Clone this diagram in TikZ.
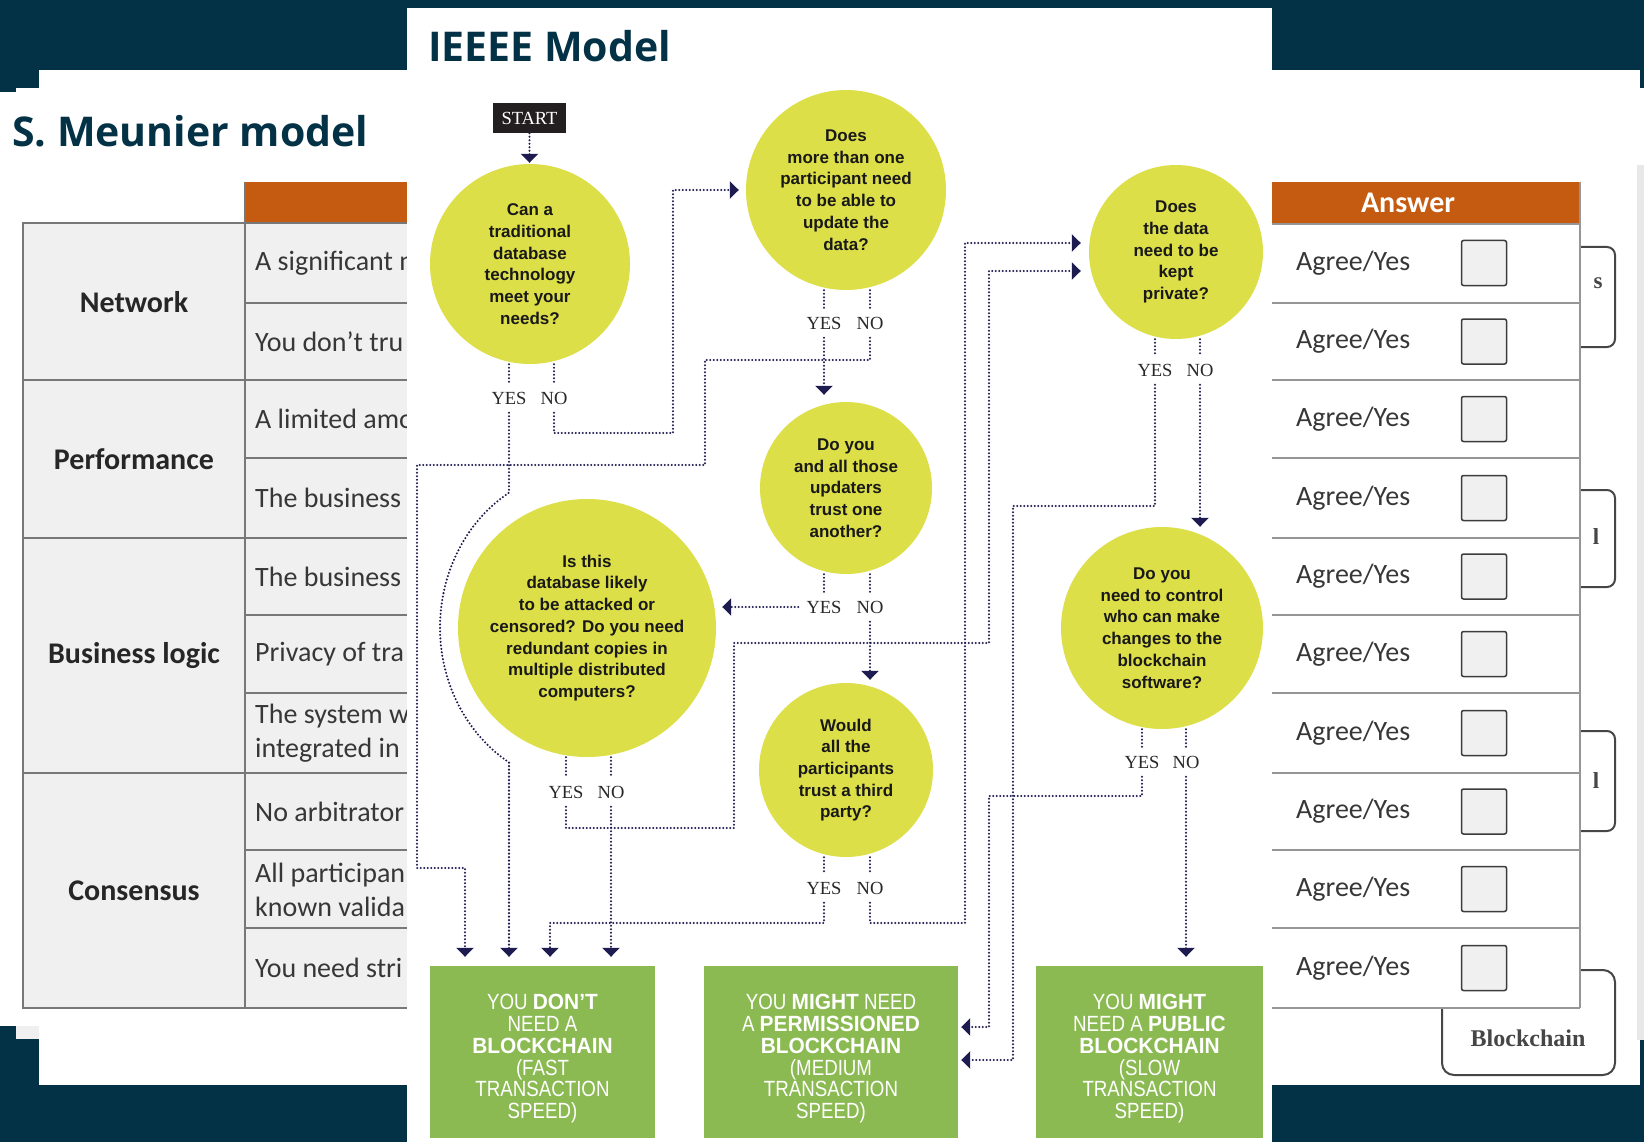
\documentclass[tikz,border=0pt]{standalone}
\usepackage{fontspec}
\usepackage{xcolor}
\usetikzlibrary{arrows.meta,positioning}
\newfontfamily\titlefont{Open Sans}
\newfontfamily\tabfont{Carlito}
\newfontfamily\qfont{Liberation Sans}
\newfontfamily\labelfont{Liberation Serif}
\newfontfamily\boxfont{Liberation Sans}[FakeStretch=0.85]
\newfontfamily\boxboldfont{Liberation Sans}[FakeStretch=0.95]
\newcommand{\hl}[1]{{\boxboldfont\bfseries #1}}
\newcommand{\topgap}{\rule{0pt}{29pt}}
\definecolor{slidenavy}{RGB}{3,49,70}
\definecolor{tableorange}{RGB}{197,90,17}
\definecolor{cellgrey}{RGB}{240,240,240}
\definecolor{linegrey}{RGB}{120,120,120}
\definecolor{lightline}{RGB}{150,150,150}
\definecolor{stripgrey}{RGB}{232,232,232}
\definecolor{tabdark}{RGB}{55,55,55}
\definecolor{boxedge}{RGB}{60,60,60}
\definecolor{bracegrey}{RGB}{70,70,70}
\definecolor{qyellow}{RGB}{221,223,72}
\definecolor{boxgreen}{RGB}{139,186,82}
\definecolor{linknavy}{RGB}{30,27,80}
\definecolor{startblack}{RGB}{35,31,32}
\definecolor{labelgrey}{RGB}{40,40,40}
\pgfdeclarelayer{backlayer}
\pgfdeclarelayer{edgelayer}
\pgfdeclarelayer{nodelayer}
\pgfsetlayers{backlayer,nodelayer,main,edgelayer}
\tikzset{
  slidetitle/.style={font=\titlefont\bfseries\fontsize{41}{48}\selectfont, text=slidenavy, inner sep=0pt},
  tabtext/.style={font=\tabfont\fontsize{28}{34}\selectfont, text=tabdark, inner sep=0pt, align=left},
  tabhead/.style={font=\tabfont\bfseries\fontsize{30}{36}\selectfont, text=black!85, inner sep=0pt},
  tabline/.style={draw=linegrey, line width=2pt},
  lightrule/.style={draw=lightline, line width=2pt},
  checkbox/.style={draw=boxedge, fill=cellgrey, line width=1.5pt, rounded corners=2pt, minimum size=45pt, inner sep=0pt},
  brace/.style={draw=bracegrey, line width=2pt},
  fragment/.style={font=\labelfont\bfseries\fontsize{23}{26}\selectfont, text=bracegrey, inner sep=0pt},
  question/.style={circle, fill=qyellow, inner sep=0pt, align=center, text=black!90, font=\qfont\bfseries\fontsize{17}{21.7}\selectfont},
  answer/.style={rectangle, fill=boxgreen, inner sep=0pt, minimum height=172pt, align=center, text=white, font=\boxfont\fontsize{22}{21.7}\selectfont},
  yesno/.style={font=\labelfont\fontsize{18.5}{20}\selectfont, text=labelgrey, text height=12.5pt, text depth=0pt, inner xsep=8pt, inner ysep=0pt, minimum height=29pt},
  startbox/.style={fill=startblack, text=white, font=\labelfont\fontsize{18.5}{20}\selectfont, minimum width=73pt, minimum height=30pt, inner sep=0pt},
  link/.style={draw=linknavy, line width=2.3pt, line cap=round, dash pattern=on 0pt off 3.5pt},
  flow/.style={link, -{Triangle[width=17pt,length=9pt]}}
}
\begin{document}
\begin{tikzpicture}[x=1pt,y=-1pt]
	\useasboundingbox (0,0) rectangle (1644,1142);
	\begin{pgfonlayer}{backlayer}
		\fill[slidenavy] (0,0) rectangle (1644,1142);
		\fill[white] (0,70) rectangle (1644,1085);
		\fill[slidenavy] (0,70) rectangle (39,88);
		\fill[slidenavy] (0,88) rectangle (16,92);
		\fill[slidenavy] (0,1026) rectangle (16,1085);
		\fill[slidenavy] (16,1039) rectangle (39,1085);
		\fill[cellgrey] (16,1026) rectangle (39,1039);
		\fill[slidenavy] (1640,70) rectangle (1644,88);
		\fill[slidenavy] (1640,1040) rectangle (1644,1085);
		\fill[stripgrey] (1637,165) rectangle (1644,1040);
		\node[slidetitle, anchor=base west] (meunier) at (12,147) {S. Meunier model};
		\fill[tableorange] (245,182) rectangle (430,223);
		\fill[cellgrey] (23,223) rectangle (430,1008);
		\draw[tabline] (430,223) -- (23,223) -- (23,1008) -- (430,1008);
		\draw[tabline] (245,182) -- (245,1008);
		\foreach \y in {380,538,773}
			\draw[tabline] (23,\y) -- (430,\y);
		\foreach \y in {303,458,615,693,850,928}
			\draw[tabline] (245,\y) -- (430,\y);
		\node[tabhead] (net) at (134,302) {Network};
		\node[tabhead] (perf) at (134,459) {Performance};
		\node[tabhead] (logic) at (134,656) {Business logic};
		\node[tabhead] (cons) at (134,891) {Consensus};
		\node[tabtext, anchor=west] (t1) at (255,263) {A significant n};
		\node[tabtext, anchor=west] (t2) at (255,341.5) {You don’t tru};
		\node[tabtext, anchor=west] (t3) at (255,419) {A limited amo};
		\node[tabtext, anchor=west] (t4) at (255,498) {The business};
		\node[tabtext, anchor=west] (t5) at (255,576.5) {The business};
		\node[tabtext, anchor=west] (t6) at (255,654) {Privacy of tra};
		\node[tabtext, anchor=west] (t7) at (255,733.5) {The system w\\integrated in};
		\node[tabtext, anchor=west] (t8) at (255,811.5) {No arbitrator};
		\node[tabtext, anchor=west] (t9) at (255,889.5) {All participan\\known valida};
		\node[tabtext, anchor=west] (t10) at (255,968) {You need stri};
		\draw[brace, rounded corners=8pt] (1575,247) -- (1615,247) -- (1615,347) -- (1575,347);
		\draw[brace, rounded corners=8pt] (1575,490) -- (1615,490) -- (1615,587) -- (1575,587);
		\draw[brace, rounded corners=8pt] (1575,731) -- (1615,731) -- (1615,831) -- (1575,831);
		\draw[brace, rounded corners=12pt] (1442,970) rectangle (1615,1075);
		\node[fragment] (frag1) at (1598,283) {s};
		\node[fragment] (frag2) at (1596,537) {l};
		\node[fragment] (frag3) at (1596,781) {l};
		\node[font=\labelfont\bfseries\fontsize{24}{28}\selectfont, text=bracegrey] (chainlabel) at (1528,1038) {Blockchain};
		\fill[tableorange] (1250,182) rectangle (1580,224);
		\fill[white] (1250,224) rectangle (1580,1008);
		\foreach \y in {224,303,380,458,538,615,693,773,850,928,1008}
			\draw[lightrule] (1250,\y) -- (1580,\y);
		\draw[lightrule] (1580,182) -- (1580,1008);
		\node[font=\tabfont\bfseries\fontsize{30}{36}\selectfont, text=white] (anshead) at (1408,203) {Answer};
		\foreach \c [count=\i] in {263,341.5,419,498,576.5,654,733,811.5,889,968} {
			\node[tabtext, anchor=west] (agree\i) at (1296,\c) {Agree/Yes};
			\node[checkbox] (tick\i) at (1484,\c) {};
		}
		\fill[white] (407,8) rectangle (1272,1142);
		\node[slidetitle, anchor=base west] (ieee) at (428,62) {IEEEE Model};
	\end{pgfonlayer}
	\begin{pgfonlayer}{nodelayer}
		\node[startbox] (start) at (529.5,118) {START};
		\node[question, minimum size=200pt] (q1) at (530,264) {Can a\\traditional\\database\\technology\\meet your\\needs?};
		\node[question, minimum size=200pt] (q2) at (846,190) {Does\\more than one\\participant need\\to be able to\\update the\\data?};
		\node[question, minimum size=172pt] (q3) at (846,488) {Do you\\and all those\\updaters\\trust one\\another?};
		\node[question, minimum size=258pt] (q4) at (587,628) {Is this\\database likely\\to be attacked or\\censored? Do you need\\redundant copies in\\multiple distributed\\computers?};
		\node[question, minimum size=174pt] (q5) at (846,770) {Would\\all the\\participants\\trust a third\\party?};
		\node[question, minimum size=174pt] (q6) at (1176,252) {Does\\the data\\need to be\\kept\\private?};
		\node[question, minimum size=202pt] (q7) at (1162,628) {Do you\\need to control\\who can make\\changes to the\\blockchain\\software?};
		\node[yesno] (y1) at (509,398) {YES};
		\node[yesno] (n1) at (554,398) {NO};
		\node[yesno] (y2) at (824,323) {YES};
		\node[yesno] (n2) at (870,323) {NO};
		\node[yesno] (y3) at (824,607) {YES};
		\node[yesno] (n3) at (870,607) {NO};
		\node[yesno] (y4) at (566,792) {YES};
		\node[yesno] (n4) at (611,792) {NO};
		\node[yesno] (y5) at (824,888) {YES};
		\node[yesno] (n5) at (870,888) {NO};
		\node[yesno] (y6) at (1155,370) {YES};
		\node[yesno] (n6) at (1200,370) {NO};
		\node[yesno] (y7) at (1142,762) {YES};
		\node[yesno] (n7) at (1186,762) {NO};
		\node[answer, minimum width=225pt] (box1) at (542.5,1052) {\topgap YOU \hl{DON’T}\\NEED A\\\hl{BLOCKCHAIN}\\(FAST\\TRANSACTION\\SPEED)};
		\node[answer, minimum width=254pt] (box2) at (831,1052) {\topgap YOU \hl{MIGHT} NEED\\A \hl{PERMISSIONED}\\\hl{BLOCKCHAIN}\\(MEDIUM\\TRANSACTION\\SPEED)};
		\node[answer, minimum width=227pt] (box3) at (1149.5,1052) {\topgap YOU \hl{MIGHT}\\NEED A \hl{PUBLIC}\\\hl{BLOCKCHAIN}\\(SLOW\\TRANSACTION\\SPEED)};
		\coordinate (w1) at (673,433);
		\coordinate (w2) at (705,360);
		\coordinate (w3) at (417,465);
		\coordinate (w4) at (465,868);
		\coordinate (w5) at (734,828);
		\coordinate (w6) at (989,643);
		\coordinate (w7) at (550,923);
		\coordinate (w8) at (965,923);
		\coordinate (w9) at (1013,506);
		\coordinate (w10) at (989,796);
	\end{pgfonlayer}
	\begin{pgfonlayer}{edgelayer}
		\draw[flow, shorten >=1pt] (start.south) to (start.south |- q1.north);
		\foreach \i in {1,...,7} {
			\draw[link] (y\i |- q\i.south) to (y\i.north);
			\draw[link] (n\i |- q\i.south) to (n\i.north);
		}
		\draw[flow, shorten >=7pt] (n1.south) |- (w1) |- (q2.west);
		\draw[flow, shorten >=9pt] (y1.south) -- ++(0,80) arc[start angle=121.4, end angle=238.6, x radius=144pt, y radius=158pt] -- (y1.south |- box1.north);
		\draw[flow, shorten >=7pt] (y2.south) to (y2.south |- q3.north);
		\draw[flow, shorten >=9pt] (n2.south) |- (w2) |- (w3) |- (w4) -- (w4 |- box1.north);
		\draw[flow, shorten >=6pt] (y3.west) to (y3.west -| q4.east);
		\draw[flow, shorten >=3pt] (n3.south) to (n3.south |- q5.north);
		\draw[flow, shorten >=9pt] (n4.south) to (n4.south |- box1.north);
		\draw[flow, shorten >=8pt] (y4.south) |- (w5) |- (w6) |- ([yshift=-19pt]q6.west);
		\draw[flow, shorten >=9pt] (y5.south) |- (w7) -- (w7 |- box1.north);
		\draw[flow, shorten >=8pt] (n5.south) |- (w8) |- ([yshift=9pt]q6.west);
		\draw[flow, shorten >=3pt] (y6.south) |- (w9) |- ([yshift=-8pt]box2.east);
		\draw[flow] (n6.south) to (n6.south |- q7.north);
		\draw[flow, shorten >=3pt] (y7.south) |- (w10) |- ([yshift=25pt]box2.east);
		\draw[flow, shorten >=9pt] (n7.south) to (n7.south |- box3.north);
	\end{pgfonlayer}
\end{tikzpicture}
\end{document}
